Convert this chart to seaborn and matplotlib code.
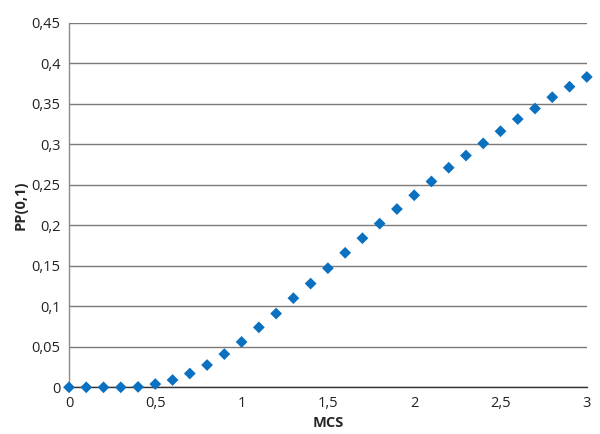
import seaborn as sns
import matplotlib.pyplot as plt
import pandas as pd
from matplotlib.ticker import FuncFormatter, MultipleLocator

# Values
mcs = [0.0, 0.1, 0.2, 0.3, 0.4, 0.5, 0.6, 0.7, 0.8, 0.9,
       1.0, 1.1, 1.2, 1.3, 1.4, 1.5, 1.6, 1.7, 1.8, 1.9,
       2.0, 2.1, 2.2, 2.3, 2.4, 2.5, 2.6, 2.7, 2.8, 2.9, 3.0]
pp01 = [0.0, 0.0, 0.0, 0.0, 0.0005, 0.004, 0.009, 0.017, 0.0275, 0.041,
        0.056, 0.074, 0.091, 0.110, 0.128, 0.147, 0.166, 0.184, 0.202, 0.220,
        0.237, 0.254, 0.271, 0.286, 0.301, 0.316, 0.331, 0.344, 0.358, 0.371, 0.383]

df = pd.DataFrame({'MCS': mcs, 'PP(0,1)': pp01})

sns.set_style("white")
plt.rcParams['font.family'] = ['Open Sans', 'DejaVu Sans']

fig = plt.figure(figsize=(6.0, 4.34), dpi=100)
ax = fig.add_axes([0.115, 0.1076, 0.863, 0.8402])

sns.scatterplot(data=df, x='MCS', y='PP(0,1)', marker='D', s=36,
                color='#0A70C0', edgecolor='none', ax=ax, clip_on=False, zorder=3)

ax.set_xlim(0, 3)
ax.set_ylim(0, 0.45)
ax.xaxis.set_major_locator(MultipleLocator(0.5))
ax.yaxis.set_major_locator(MultipleLocator(0.05))
comma = FuncFormatter(lambda v, p: ('%g' % round(v, 2)).replace('.', ','))
ax.xaxis.set_major_formatter(comma)
ax.yaxis.set_major_formatter(comma)

ax.grid(True, axis='y', color='#7a7a7a', linewidth=1.0)
ax.grid(False, axis='x')
ax.set_axisbelow(True)
for side in ['top', 'right']:
    ax.spines[side].set_visible(False)
ax.spines['left'].set_color('#8a8a8a')
ax.spines['bottom'].set_color('#333333')
ax.spines['left'].set_linewidth(1.0)
ax.spines['bottom'].set_linewidth(1.0)
ax.tick_params(axis='both', length=0, labelsize=10.5, colors='#222222', pad=6)

ax.set_xlabel('MCS', fontsize=10.5, fontweight='bold', labelpad=4)
ax.set_ylabel('PP(0,1)', fontsize=10.5, fontweight='bold', labelpad=3)

plt.savefig('out.png', dpi=100)
